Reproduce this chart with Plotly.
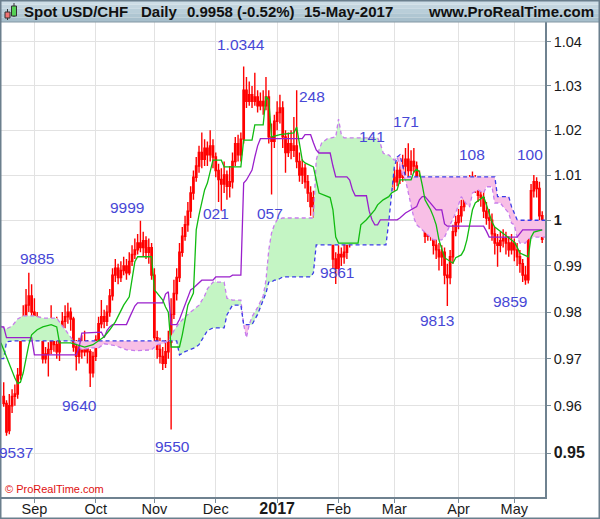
"""USD/CHF daily candles with Ichimoku cloud, ProRealTime style."""

import numpy as np
import pandas as pd
import plotly.graph_objects as go

# sessions shown (weekdays 17-Aug-2016 .. 15-May-2017)
dates = pd.bdate_range("2016-08-17", "2017-05-15")

opens = [
    .9620, .9605, .9548, .9600, .9620, .9625, .9665, .9760, .9790, .9815, .9835,
    .9800, .9790, .9770, .9760, .9700, .9710, .9720, .9745, .9730, .9715, .9755,
    .9780, .9790, .9800, .9785, .9725, .9705, .9730, .9715, .9725, .9715, .9670,
    .9705, .9740, .9775, .9790, .9780, .9800, .9835, .9880, .9895, .9875, .9890,
    .9900, .9885, .9910, .9925, .9935, .9950, .9940, .9955, .9930, .9940,
    .9880, .9745, .9720, .9705, .9690, .9715, .9735, .9795, .9840, .9875, .9930,
    .9965, .9990, 1.0020, 1.0060, 1.0095, 1.0120, 1.0150, 1.0135, 1.0160, 1.0145, 1.0165,
    1.0140, 1.0110, 1.0090, 1.0080, 1.0100, 1.0075, 1.0085, 1.0130, 1.0170, 1.0145, 1.0180,
    1.0290, 1.0265, 1.0280, 1.0265, 1.0275, 1.0255, 1.0265, 1.0255, 1.0275, 1.0185, 1.0175,
    1.0220, 1.0240, 1.0250, 1.0185, 1.0150, 1.0170, 1.0155, 1.0165, 1.0130, 1.0100, 1.0115,
    1.0085, 1.0060, 1.0030, 1.0050, 1.0015, .9980, .9995, 1.0005, .9990, .9975, .9915,
    .9895, .9925, .9920, .9930, .9955, .9985, 1.0000, 1.0020, 1.0045, 1.0035, 1.0005,
    .9985, 1.0015, 1.0040, 1.0060, 1.0085, 1.0075, 1.0065, 1.0080, 1.0075,
    1.0095, 1.0085, 1.0110, 1.0095, 1.0120, 1.0135, 1.0110, 1.0130, 1.0120, 1.0090, 1.0070,
    1.0005, .9965, .9990, .9975, .9945, .9935, .9920, .9930, .9880, .9875, .9920, .9975,
    .9995, 1.0010, 1.0030, 1.0055, 1.0070, 1.0085, 1.0075, 1.0080, 1.0055, 1.0050,
    1.0020, 1.0005, 1.0000, .9970, .9950, .9945, .9955, .9960, .9950, .9935,
    .9950, .9935, .9920, .9905, .9880, .9870, .9975, 1.0065, 1.0085, 1.0070, 1.0010,
]
highs = [
    .9650, .9612, .9625, .9635, .9645, .9680, .9775, .9815, .9850, .9885, .9860,
    .9830, .9800, .9790, .9765, .9725, .9735, .9815, .9765, .9790, .9770, .9800,
    .9815, .9820, .9810, .9790, .9740, .9745, .9750, .9760, .9740, .9720, .9715,
    .9750, .9790, .9826, .9805, .9815, .9850, .9895, .9915, .9905, .9910, .9920,
    .9915, .9930, .9945, .9960, .9970, .9999, .9975, .9965, .9960, .9950,
    .9895, .9760, .9745, .9725, .9740, .9760, .9830, .9870, .9895, .9950, .9985,
    1.0010, 1.0040, 1.0075, 1.0110, 1.0140, 1.0165, 1.0195, 1.0180, 1.0175, 1.0200, 1.0180,
    1.0150, 1.0125, 1.0115, 1.0130, 1.0110, 1.0120, 1.0150, 1.0185, 1.0190, 1.0195, 1.0344,
    1.0320, 1.0310, 1.0300, 1.0330, 1.0290, 1.0285, 1.0290, 1.0320, 1.0290, 1.0215, 1.0235,
    1.0265, 1.0280, 1.0265, 1.0200, 1.0195, 1.0200, 1.0230, 1.0290, 1.0150, 1.0135, 1.0125,
    1.0100, 1.0075, 1.0065, 1.0060, 1.0030, 1.0010, 1.0020, 1.0015, 1.0000, .9985, .9930,
    .9945, .9940, .9950, .9970, 1.0000, 1.0030, 1.0040, 1.0060, 1.0065, 1.0050, 1.0020,
    1.0030, 1.0060, 1.0080, 1.0110, 1.0105, 1.0095, 1.0100, 1.0095, 1.0110,
    1.0115, 1.0130, 1.0135, 1.0145, 1.0160, 1.0171, 1.0155, 1.0160, 1.0130, 1.0110, 1.0080,
    1.0020, 1.0015, 1.0005, .9985, .9965, .9950, .9945, .9940, .9905, .9935, .9990, 1.0010,
    1.0025, 1.0045, 1.0070, 1.0085, 1.0100, 1.0108, 1.0100, 1.0090, 1.0075, 1.0065,
    1.0040, 1.0025, 1.0015, .9985, .9970, .9975, .9980, .9975, .9965, .9970,
    .9960, .9950, .9935, .9915, .9900, .9990, 1.0080, 1.0100, 1.0095, 1.0085, 1.0020,
]
lows = [
    .9598, .9537, .9540, .9585, .9600, .9615, .9655, .9745, .9780, .9800, .9780,
    .9775, .9755, .9745, .9690, .9690, .9662, .9710, .9715, .9700, .9695, .9745,
    .9765, .9775, .9760, .9715, .9675, .9690, .9700, .9705, .9690, .9640, .9660,
    .9695, .9730, .9765, .9765, .9770, .9790, .9825, .9865, .9860, .9865, .9880,
    .9870, .9880, .9900, .9915, .9925, .9930, .9920, .9915, .9905, .9870,
    .9735, .9700, .9690, .9676, .9680, .9700, .9550, .9785, .9825, .9865, .9920,
    .9955, .9975, 1.0005, 1.0045, 1.0085, 1.0105, 1.0115, 1.0120, 1.0120, 1.0130, 1.0115,
    1.0095, 1.0040, 1.0021, 1.0060, 1.0045, 1.0050, 1.0070, 1.0120, 1.0130, 1.0130, 1.0170,
    1.0250, 1.0255, 1.0250, 1.0255, 1.0240, 1.0245, 1.0235, 1.0245, 1.0170, 1.0057, 1.0160,
    1.0200, 1.0215, 1.0160, 1.0105, 1.0140, 1.0135, 1.0140, 1.0115, 1.0085, 1.0080, 1.0070,
    1.0040, 1.0010, 1.0000, .9990, .9965, .9970, .9985, .9975, .9960, .9895, .9861,
    .9880, .9900, .9905, .9915, .9940, .9975, .9990, 1.0005, 1.0015, .9990, .9970,
    .9975, 1.0005, 1.0030, 1.0050, 1.0055, 1.0045, 1.0055, 1.0055, 1.0065,
    1.0065, 1.0075, 1.0080, 1.0085, 1.0100, 1.0095, 1.0100, 1.0105, 1.0075, 1.0050, .9990,
    .9950, .9955, .9955, .9925, .9915, .9890, .9900, .9860, .9813, .9860, .9905, .9965,
    .9980, .9995, 1.0020, 1.0040, 1.0055, 1.0060, 1.0060, 1.0040, 1.0030, 1.0005,
    .9990, .9980, .9955, .9925, .9898, .9930, .9940, .9925, .9920, .9925,
    .9910, .9900, .9885, .9865, .9859, .9862, .9965, 1.0050, 1.0050, .9995, .9950,
]
closes = [
    .9605, .9545, .9600, .9620, .9625, .9665, .9760, .9790, .9815, .9835, .9800,
    .9790, .9770, .9760, .9700, .9710, .9720, .9745, .9730, .9715, .9755, .9780,
    .9790, .9800, .9785, .9725, .9705, .9730, .9715, .9725, .9715, .9670, .9705,
    .9740, .9775, .9790, .9780, .9800, .9835, .9880, .9895, .9875, .9890, .9900,
    .9885, .9910, .9925, .9935, .9950, .9940, .9955, .9930, .9940, .9880,
    .9745, .9720, .9705, .9690, .9715, .9735, .9795, .9840, .9875, .9930, .9965,
    .9990, 1.0020, 1.0060, 1.0095, 1.0120, 1.0150, 1.0135, 1.0160, 1.0145, 1.0165, 1.0140,
    1.0110, 1.0090, 1.0080, 1.0100, 1.0075, 1.0085, 1.0130, 1.0170, 1.0145, 1.0180, 1.0290,
    1.0265, 1.0280, 1.0265, 1.0275, 1.0255, 1.0265, 1.0255, 1.0275, 1.0185, 1.0175, 1.0220,
    1.0240, 1.0250, 1.0185, 1.0150, 1.0170, 1.0155, 1.0165, 1.0130, 1.0100, 1.0115, 1.0085,
    1.0060, 1.0030, 1.0050, 1.0015, .9980, .9995, 1.0005, .9990, .9975, .9915, .9895,
    .9925, .9920, .9930, .9955, .9985, 1.0000, 1.0020, 1.0045, 1.0035, 1.0005, .9985,
    1.0015, 1.0040, 1.0060, 1.0085, 1.0075, 1.0065, 1.0080, 1.0075, 1.0095,
    1.0085, 1.0110, 1.0095, 1.0120, 1.0135, 1.0110, 1.0130, 1.0120, 1.0090, 1.0070, 1.0005,
    .9965, .9990, .9975, .9945, .9935, .9920, .9930, .9880, .9875, .9920, .9975, .9995,
    1.0010, 1.0030, 1.0055, 1.0070, 1.0085, 1.0075, 1.0080, 1.0055, 1.0050, 1.0020,
    1.0005, 1.0000, .9970, .9950, .9945, .9955, .9960, .9950, .9935, .9950,
    .9935, .9920, .9905, .9880, .9870, .9975, 1.0065, 1.0085, 1.0070, 1.0010, .9958,
]

# Ichimoku lines read at chosen sessions (index into dates; -1 / 194 lie just
# outside the candles, at the chart edges)
tenkan_idx = [-1, 0, 2, 4, 5, 6, 7, 8, 9, 10, 12, 14, 17, 19, 20, 24, 26, 29, 32, 33,
              36, 38, 40, 43, 45, 47, 48, 53, 54, 55, 57, 58, 59, 60, 63, 64, 66, 68,
              69, 70, 71, 72, 73, 74, 75, 78, 79, 85, 86, 89, 90, 93, 94, 95, 96, 99,
              104, 105, 106, 107, 108, 111, 112, 113, 117, 118, 119, 120, 127, 128,
              130, 131, 133, 134, 136, 138, 139, 141, 142, 146, 147, 148, 149, 150,
              151, 152, 153, 154, 155, 156, 157, 158, 161, 162, 164, 165, 166, 167,
              168, 169, 172, 173, 174, 175, 176, 178, 180, 182, 183, 184, 185, 188,
              189, 190, 193]
tenkan_val = [.9734, .9719, .9687, .9659, .9647, .9650, .9670, .9704, .9730, .9751,
              .9762, .9768, .9773, .9768, .9734, .9734, .9730, .9725, .9730, .9734,
              .9747, .9762, .9779, .9815, .9833, .9909, .9920, .9920, .9848, .9841,
              .9826, .9811, .9800, .9725, .9725, .9751, .9815, .9841, .9979, 1.0012,
              1.0038, 1.0067, 1.0082, 1.0111, 1.0133, 1.0133, 1.0118, 1.0118, 1.0178,
              1.0178, 1.0212, 1.0212, 1.0276, 1.0268, 1.0185, 1.0190, 1.0194, 1.0207,
              1.0172, 1.0133, 1.0127, 1.0118, 1.0089, 1.0060, 1.0050, 1.0023, .9963,
              .9950, .9950, .9990, 1.0001, 1.0008, 1.0023, 1.0034, 1.0045, 1.0052,
              1.0060, 1.0067, 1.0089, 1.0089, 1.0107, 1.0113, 1.0107, 1.0078, 1.0045,
              1.0034, 1.0023, 1.0008, .9990, .9957, .9935, .9918, .9906, .9918, .9924,
              .9935, .9957, .9990, 1.0023, 1.0038, 1.0052, 1.0034, 1.0016, .9996,
              .9985, .9975, .9966, .9957, .9952, .9941, .9928, .9920, .9963, .9974,
              .9979]

kijun_idx = [-1, 0, 1, 10, 11, 26, 27, 28, 35, 36, 37, 38, 39, 44, 45, 46, 47, 48, 57,
             58, 59, 60, 62, 63, 64, 65, 66, 67, 68, 70, 71, 75, 76, 81, 82, 85, 86,
             87, 88, 89, 90, 91, 92, 107, 108, 110, 111, 112, 113, 117, 118, 119, 123,
             124, 125, 126, 130, 131, 132, 133, 134, 135, 141, 142, 144, 146, 148,
             149, 150, 151, 152, 153, 154, 155, 157, 158, 159, 172, 173, 174, 184,
             185, 186, 193]
kijun_val = [.9768, .9768, .9745, .9745, .9708, .9708, .9723, .9755, .9757, .9745,
             .9760, .9768, .9773, .9773, .9787, .9800, .9813, .9820, .9820, .9839,
             .9844, .9773, .9773, .9784, .9800, .9815, .9830, .9848, .9852, .9863,
             .9869, .9869, .9876, .9876, .9880, .9880, 1.0082, 1.0089, 1.0100, 1.0111,
             1.0140, 1.0165, 1.0181, 1.0181, 1.0190, 1.0190, 1.0172, 1.0156, 1.0149,
             1.0149, 1.0120, 1.0096, 1.0096, 1.0089, 1.0067, 1.0054, 1.0054, 1.0020,
             1.0001, .9990, .9990, 1.0001, 1.0001, 1.0005, 1.0016, 1.0023, 1.0030,
             1.0045, 1.0052, 1.0052, 1.0045, 1.0038, 1.0030, 1.0023, 1.0023, .9992,
             .9987, .9987, .9976, .9963, .9963, .9970, .9979, .9979]

cloud_idx = [-1, 0, 1, 3, 5, 7, 11, 14, 19, 21, 23, 25, 27, 28, 31, 34, 36, 40, 44,
             48, 53, 55, 57, 59, 61, 62, 63, 65, 67, 69, 70, 72, 73, 75, 79, 80, 82,
             85, 86, 87, 88, 89, 91, 93, 94, 95, 96, 97, 98, 100, 110, 111, 112, 113,
             114, 116, 119, 120, 121, 122, 134, 135, 136, 137, 138, 139, 140, 141,
             142, 143, 144, 145, 146, 147, 148, 150, 152, 154, 157, 158, 160, 162,
             164, 166, 167, 168, 170, 172, 173, 175, 176, 177, 178, 179, 181, 182,
             183, 184, 185, 187, 188, 190, 193, 194]
span_a = [.9770, .9766, .9764, .9770, .9785, .9792, .9792, .9787, .9787, .9770, .9755,
          .9738, .9725, .9719, .9723, .9723, .9732, .9728, .9719, .9717, .9719, .9730,
          .9732, .9738, .9760, .9770, .9777, .9790, .9800, .9810, .9815, .9835, .9850,
          .9865, .9865, .9830, .9826, .9826, .9773, .9745, .9773, .9790, .9810, .9835,
          .9869, .9935, .9972, .9990, 1.0001, 1.0005, 1.0005, 1.0005, 1.0133, 1.0156,
          1.0172, 1.0181, 1.0185, 1.0225, 1.0190, 1.0183, 1.0183, 1.0170, 1.0149,
          1.0145, 1.0145, 1.0140, 1.0133, 1.0140, 1.0118, 1.0100, 1.0089, 1.0060,
          1.0030, 1.0005, .9990, .9979, .9968, .9957, .9957, .9963, .9990, 1.0016,
          1.0052, 1.0034, 1.0030, 1.0060, 1.0067, 1.0060, 1.0074, 1.0074, 1.0038,
          1.0038, 1.0038, 1.0030, 1.0016, .9994, .9990, .9963, .9950, .9950, .9959,
          .9963, .9963, .9963]
span_b = [.9700, .9700, .9736, .9738, .9738, .9738, .9738, .9738, .9738, .9738, .9738,
          .9738, .9738, .9738, .9738, .9738, .9738, .9738, .9738, .9738, .9738, .9738,
          .9738, .9738, .9738, .9738, .9708, .9715, .9720, .9725, .9730, .9751, .9760,
          .9766, .9766, .9794, .9815, .9815, .9773, .9773, .9773, .9773, .9795, .9826,
          .9841, .9865, .9865, .9869, .9869, .9876, .9876, .9885, .9946, .9946, .9946,
          .9946, .9946, .9946, .9946, .9946, .9946, .9946, .9946, .9946, .9996,
          1.0060, 1.0118, 1.0140, 1.0145, 1.0120, 1.0096, 1.0096, 1.0096, 1.0096,
          1.0096, 1.0096, 1.0096, 1.0096, 1.0096, 1.0096, 1.0096, 1.0096, 1.0096,
          1.0096, 1.0096, 1.0096, 1.0096, 1.0096, 1.0096, 1.0096, 1.0096, 1.0052,
          1.0052, 1.0052, 1.0052, 1.0030, 1.0015, 1.0001, 1.0000, 1.0000, 1.0000,
          1.0000, 1.0000, 1.0000]

# swing labels as ProRealTime prints them
label_text = ["1.0344", "248", "141", "171", "108", "100", "9999", "021", "057",
              "9885", "9861", "9813", "9859", "9640", "9550", "9537"]

W, H = 600, 519
L, R, T, B = 1, 55, 22, 22
PW, PH = W - L - R, H - T - B


def px(x):
    return (x - L) / PW


def py(y):
    return (H - B - y) / PH


sess = list(range(len(dates)))
fig = go.Figure()

# cloud: split at the crossings, green when span A is on top, pink otherwise
diff = np.array(span_a) - np.array(span_b)
start = 0
for k in range(1, len(cloud_idx)):
    if diff[k] == 0 or k == len(cloud_idx) - 1:
        seg = slice(start, k + 1)
        xs = cloud_idx[seg]
        colour = "#c4f5c4" if diff[seg].sum() > 0 else "#f8bfe6"
        fig.add_trace(go.Scatter(
            x=xs + xs[::-1], y=span_a[seg] + span_b[seg][::-1],
            fill="toself", fillcolor=colour, line=dict(width=0),
            mode="lines", hoverinfo="skip", showlegend=False))
        start = k

fig.add_trace(go.Scatter(x=cloud_idx, y=span_a, mode="lines",
                         line=dict(color="#c77dec", width=1.3, dash="4px,3px"),
                         hoverinfo="skip", showlegend=False))
fig.add_trace(go.Scatter(x=cloud_idx, y=span_b, mode="lines",
                         line=dict(color="#3b3be8", width=1.3, dash="4px,3px"),
                         hoverinfo="skip", showlegend=False))

fig.add_trace(go.Candlestick(
    x=sess, open=opens, high=highs, low=lows, close=closes,
    increasing=dict(line=dict(color="#ff0000", width=1.4), fillcolor="#ffffff"),
    decreasing=dict(line=dict(color="#ff0000", width=1.4), fillcolor="#ff0000"),
    whiskerwidth=0, hoverinfo="skip", showlegend=False))

fig.add_trace(go.Scatter(x=kijun_idx, y=kijun_val, mode="lines",
                         line=dict(color="#9a1fcc", width=1.3),
                         hoverinfo="skip", showlegend=False))
fig.add_trace(go.Scatter(x=tenkan_idx, y=tenkan_val, mode="lines",
                         line=dict(color="#11bb11", width=1.3),
                         hoverinfo="skip", showlegend=False))

# month ticks at the first session of each month
first = pd.Series(sess, index=dates).groupby([dates.year, dates.month]).first()
tick_x, tick_t = [], []
for (yr, mo), i in first.items():
    if i == 0:
        continue
    tick_x.append(i)
    if mo == 1:
        tick_t.append(f"<b><span style='font-size:16px'>{yr}</span></b>")
    else:
        tick_t.append(dates[i].strftime("%b"))

y_vals = [0.95, 0.96, 0.97, 0.98, 0.99, 1.00, 1.01, 1.02, 1.03, 1.04]
y_text = ["<b><span style='font-size:16px'>0.95</span></b>", "0.96", "0.97", "0.98",
          "0.99", "<b>1</b>", "1.01", "1.02", "1.03", "1.04"]

fig.update_layout(
    width=W, height=H,
    margin=dict(l=L, r=R, t=T, b=B),
    paper_bgcolor="white", plot_bgcolor="white",
    font=dict(family="Liberation Sans, Arial, sans-serif", color="#1a1a1a"),
    showlegend=False,
    xaxis=dict(
        range=[-0.97, 194.0], rangeslider=dict(visible=False),
        tickvals=tick_x, ticktext=tick_t, tickfont=dict(size=14.5),
        ticks="outside", ticklen=4, tickcolor="#7a8c98",
        ticklabelstandoff=-6,
        showgrid=True, gridcolor="#e2e2e2", gridwidth=1, zeroline=False,
        showline=True, linecolor="#6f8290", linewidth=1.5,
    ),
    yaxis=dict(
        type="log", side="right",
        range=[-0.02644, 0.01894],
        tickvals=y_vals, ticktext=y_text, tickfont=dict(size=14.5),
        ticks="outside", ticklen=4, tickcolor="#7a8c98",
        showgrid=True, gridcolor="#e2e2e2", gridwidth=1, zeroline=False,
        showline=True, linecolor="#6f8290", linewidth=1.5,
    ),
)

# swing labels (session position, price of label centre)
label_pos = [(85.1, 1.0395), (110.5, 1.0275), (132.0, 1.0187), (144.2, 1.0220),
             (167.8, 1.0145), (188.6, 1.0145), (44.2, 1.0027), (76.1, 1.0014),
             (95.4, 1.0014), (11.9, .9917), (119.5, .9885), (155.3, .9781),
             (181.5, .9822), (27.3, .9600), (60.5, .9515), (4.4, .9501)]
for txt, (lx, lp) in zip(label_text, label_pos):
    fig.add_annotation(x=lx, y=np.log10(lp), text=txt, showarrow=False,
                       xref="x", yref="y",
                       font=dict(size=15.5, color="#4747d6",
                                 family="Liberation Sans, Arial"))

# header bar with a soft vertical gradient
bands = ["#cddde6", "#c3d5df", "#b9ced9", "#afc6d2", "#a7bfcc"]
step = 22 / len(bands)
for k, c in enumerate(bands):
    fig.add_shape(type="rect", xref="paper", yref="paper",
                  x0=px(0), x1=px(W), y0=py(step * (k + 1)), y1=py(step * k),
                  fillcolor=c, line=dict(width=0), layer="above")
fig.add_shape(type="line", xref="paper", yref="paper", x0=px(0), x1=px(W),
              y0=py(22), y1=py(22), line=dict(color="#8397a4", width=1))

# little candle icon
fig.add_shape(type="line", xref="paper", yref="paper", x0=px(7.5), x1=px(7.5),
              y0=py(20), y1=py(9), line=dict(color="#333", width=1))
fig.add_shape(type="rect", xref="paper", yref="paper", x0=px(5), x1=px(10),
              y0=py(18), y1=py(12), fillcolor="#f07272", line=dict(color="#333", width=1))
fig.add_shape(type="line", xref="paper", yref="paper", x0=px(14), x1=px(14),
              y0=py(17), y1=py(3), line=dict(color="#333", width=1))
fig.add_shape(type="rect", xref="paper", yref="paper", x0=px(11.5), x1=px(16.5),
              y0=py(16), y1=py(6), fillcolor="#55d055", line=dict(color="#333", width=1))

head = [("Spot USD/CHF", 23, "left"), ("Daily", 140, "left"),
        ("0.9958 (-0.52%)", 186, "left"), ("15-May-2017", 303, "left"),
        ("www.ProRealTime.com", 595, "right")]
for txt, x0, anchor in head:
    fig.add_annotation(x=px(x0), y=py(11.5), xref="paper", yref="paper",
                       text=f"<b>{txt}</b>", showarrow=False, xanchor=anchor,
                       yanchor="middle", borderpad=0,
                       font=dict(size=15, color="#111111",
                                 family="Liberation Sans, Arial"))

fig.add_annotation(x=px(3), y=py(489), xref="paper", yref="paper",
                   text="© ProRealTime.com", showarrow=False, xanchor="left",
                   yanchor="middle",
                   font=dict(size=11, color="#e01010", family="Liberation Sans, Arial"))

# outer frame
fig.add_shape(type="rect", xref="paper", yref="paper",
              x0=px(0.5), x1=px(W - 0.5), y0=py(H - 0.5), y1=py(0.5),
              line=dict(color="#6b7f8d", width=2), layer="above")

# the page's default body margin would shift the chart by 8px
fig.write_html("out.html", config={"displayModeBar": False},
               post_script="document.body.style.margin='0';")
